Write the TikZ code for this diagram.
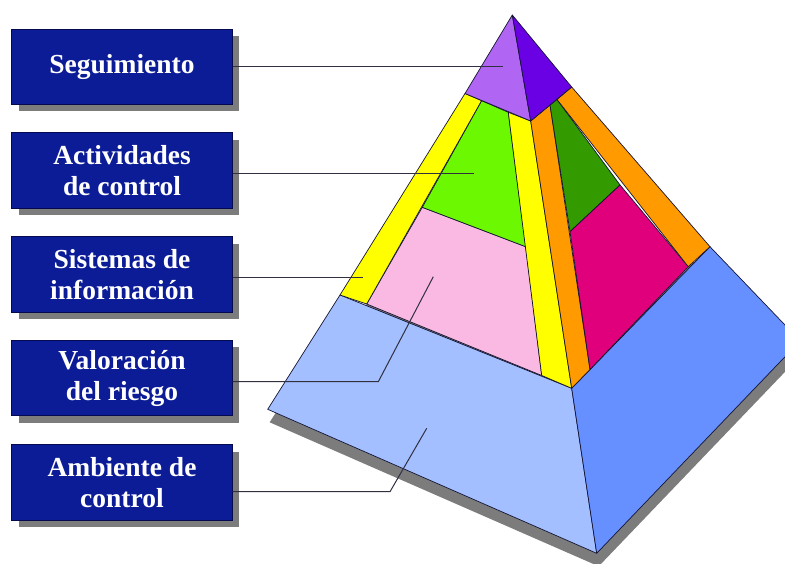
\documentclass[tikz,border=0pt]{standalone}
\usepackage{fontspec}
\setmainfont{Liberation Serif}
\usetikzlibrary{shadows}
\definecolor{boxblue}{HTML}{0C1C96}
\definecolor{boxedge}{HTML}{050A50}
\definecolor{edgeline}{HTML}{141433}
\definecolor{leader}{HTML}{303040}
\definecolor{shadowgrey}{HTML}{7C7C7C}
\definecolor{purpleA}{HTML}{B066F2}
\definecolor{purpleB}{HTML}{6A00E4}
\definecolor{yel}{HTML}{FFFF00}
\definecolor{lgreen}{HTML}{6CF800}
\definecolor{orng}{HTML}{FF9A00}
\definecolor{dgreen}{HTML}{339A00}
\definecolor{magen}{HTML}{E0007C}
\definecolor{pinkc}{HTML}{F9B9E2}
\definecolor{lblue}{HTML}{A3BFFF}
\definecolor{dblue}{HTML}{6690FF}
\tikzset{
  face/.style={fill=#1, draw=edgeline, line width=0.7pt, line join=round},
  labelbox/.style={fill=boxblue, draw=boxedge, line width=0.6pt,
    minimum width=220.6pt, minimum height=75.5pt, inner sep=0pt,
    align=center, text=white,
    font=\bfseries\fontsize{27.5}{31}\selectfont,
    drop shadow={shadow xshift=7pt, shadow yshift=-7pt, fill=shadowgrey, opacity=1}},
  leaderline/.style={draw=leader, line width=1pt}
}
\begin{document}
\begin{tikzpicture}[x=1pt,y=-1pt]
\useasboundingbox (0,0) rectangle (785,563);
% points
\coordinate (A) at (512.3,15);
\coordinate (P1) at (465,93.5);
\coordinate (Rg) at (530.7,121);
\coordinate (P2) at (571.7,87);
\coordinate (Y1) at (481.7,100.7);
\coordinate (G1) at (508.3,112.3);
\coordinate (O1) at (550,105);
\coordinate (D1) at (557,99.5);
\coordinate (TL) at (340,295);
\coordinate (Y2) at (366.7,304);
\coordinate (G2) at (422.3,207.3);
\coordinate (G3) at (525.7,246.7);
\coordinate (Pk) at (541.7,375.5);
\coordinate (M) at (571.7,388.3);
\coordinate (Mg1) at (570,231.7);
\coordinate (Mg2) at (620,185);
\coordinate (Mg3) at (688.3,266.7);
\coordinate (Mg4) at (590,369.5);
\coordinate (TR) at (710,246.7);
\coordinate (R) at (800.2,340.9);
\coordinate (B) at (596.7,553.3);
\coordinate (L) at (267.7,409.3);
\begin{scope}
\clip (0,0) rectangle (785,563);
% shadow
\fill[fill=shadowgrey] ([shift={(2,13)}]L) -- ([shift={(2,13)}]B) -- ([shift={(2,13)}]R) -- ([shift={(2,13)}]TR) -- ([shift={(2,13)}]TL) -- cycle;
% base
\draw[face=lblue] (L) -- (TL) -- (M) -- (B) -- cycle;
\draw[face=dblue] (M) -- (TR) -- (R) -- (B) -- cycle;
% left side
\draw[face=pinkc] (Y2) -- (G2) -- (G3) -- (Pk) -- cycle;
\draw[face=yel] (TL) -- (P1) -- (Y1) -- (Y2) -- cycle;
\draw[face=lgreen] (Y1) -- (G1) -- (G3) -- (G2) -- cycle;
\draw[face=yel] (G1) -- (Rg) -- (M) -- (Pk) -- cycle;
% right side
\draw[face=orng] (Rg) -- (O1) -- (Mg4) -- (M) -- cycle;
\draw[face=dgreen] (O1) -- (D1) -- (Mg2) -- (Mg1) -- cycle;
\draw[face=magen] (Mg1) -- (Mg2) -- (Mg3) -- (Mg4) -- cycle;
\draw[face=orng] (D1) -- (P2) -- (TR) -- (Mg3) -- cycle;
% top
\draw[face=purpleA] (A) -- (P1) -- (Rg) -- cycle;
\draw[face=purpleB] (A) -- (Rg) -- (P2) -- cycle;
\end{scope}
% labels
\node[labelbox] (b1) at (122,66.7) {Seguimiento};
\node[labelbox] (b2) at (122,170.5) {Actividades\\de control};
\node[labelbox] (b3) at (122,274.5) {Sistemas de\\información};
\node[labelbox] (b4) at (122,378) {Valoración\\del riesgo};
\node[labelbox] (b5) at (122,482.5) {Ambiente de\\control};
% leader lines
\coordinate (t1) at (502.7,66.7);
\coordinate (t2) at (474,173.3);
\coordinate (t3) at (362.7,277.3);
\coordinate (k4) at (378.3,381.7);
\coordinate (t4) at (433.3,276.7);
\coordinate (k5) at (390,491.7);
\coordinate (t5) at (426.7,428.3);
\draw[leaderline] (b1.east |- t1) -- (t1);
\draw[leaderline] (b2.east |- t2) -- (t2);
\draw[leaderline] (b3.east |- t3) -- (t3);
\draw[leaderline] (b4.east |- k4) -- (k4) -- (t4);
\draw[leaderline] (b5.east |- k5) -- (k5) -- (t5);
\end{tikzpicture}
\end{document}
